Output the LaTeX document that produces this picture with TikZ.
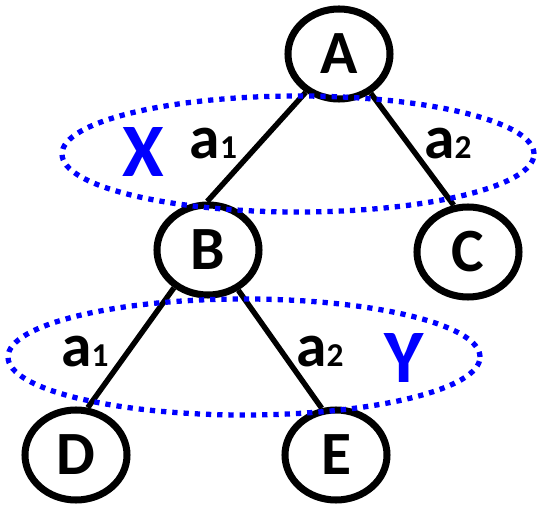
\documentclass[tikz,border=0pt]{standalone}
\usepackage{fontspec}
\setmainfont{Carlito}
\usetikzlibrary{shapes.geometric, positioning}

\newcommand{\actidx}[1]{{\fontsize{19}{21}\selectfont #1}}

\begin{document}
\begin{tikzpicture}[
    font=\fontsize{35}{40}\selectfont\bfseries,
    state/.style={ellipse, draw, line width=4pt,
      minimum width=2.04cm, minimum height=1.8cm, inner sep=0pt},
    branch/.style={line width=3.1pt},
    actlabel/.style={inner sep=0pt},
    grouplabel/.style={inner sep=0pt, text=blue,
      font=\fontsize{43}{48}\selectfont\bfseries},
    group/.style={blue, line width=3pt, dash pattern=on 3pt off 3.4pt}
  ]
  \useasboundingbox (0,0) rectangle (10.94,10.16);

  % tree
  \node[state] (A) at (6.78,9.08) {A};
  \node[state] (B) at (4.16,5.16) {B};
  \node[state] (C) at (9.36,5.12) {C};
  \node[state] (D) at (1.52,1.06) {D};
  \node[state] (E) at (6.72,1.06) {E};

  \draw[branch] (A.229) -- (B.91);
  \draw[branch] (A.309) -- (C.107);
  \draw[branch] (B.228) -- (D.76);
  \draw[branch] (B.307) -- (E.107);

  % action labels
  \node[actlabel] (a1top) at (4.27,7.28) {a\actidx{1}};
  \node[actlabel] (a2top) at (8.96,7.28) {a\actidx{2}};
  \node[actlabel] (a1bot) at (1.70,3.13) {a\actidx{1}};
  \node[actlabel] (a2bot) at (6.40,3.13) {a\actidx{2}};

  % information sets
  \node[grouplabel] (X) at (2.86,7.12) {X};
  \node[grouplabel] (Y) at (8.08,3.00) {Y};
  \draw[group] (5.96,7.08) ellipse [x radius=4.72cm, y radius=1.16cm];
  \draw[group] (4.88,3.02) ellipse [x radius=4.72cm, y radius=1.16cm];
\end{tikzpicture}
\end{document}
